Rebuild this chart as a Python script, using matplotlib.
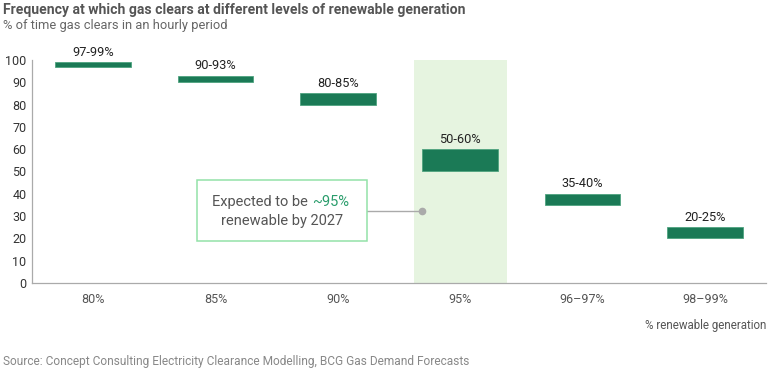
import matplotlib
matplotlib.use("Agg")
import matplotlib.pyplot as plt
from matplotlib.patches import Rectangle

plt.rcParams['font.family'] = ['Roboto', 'DejaVu Sans']

# data
categories = ['80%', '85%', '90%', '95%', '96–97%', '98–99%']
low = [97, 90, 80, 50, 35, 20]
high = [99, 93, 85, 60, 40, 25]
labels = ['97-99%', '90-93%', '80-85%', '50-60%', '35-40%', '20-25%']
highlight = 3
yticks = [0, 10, 20, 30, 40, 50, 60, 70, 80, 90, 100]

bar_green = '#1b7a56'
band_green = '#e6f4e0'
text_gray = '#333333'

fig = plt.figure(figsize=(7.8, 3.78), dpi=100)
ax = fig.add_axes([32 / 780, 95 / 378, 734 / 780, 223 / 378])

x = list(range(len(categories)))
heights = [h - l for l, h in zip(low, high)]

# highlighted 95% column
ax.bar(highlight, 100, width=0.76, color=band_green, zorder=0)

ax.bar(x, heights, bottom=low, width=0.62, color=bar_green,
       edgecolor='#4fa37f', linewidth=0.6, zorder=2)
for xi, h, lab in zip(x, high, labels):
    ax.text(xi, h + 1.5, lab, ha='center', va='bottom', fontsize=9.2,
            color='#222222', zorder=3)

ax.set_xlim(-0.5, len(categories) - 0.5)
ax.set_ylim(0, 100)
ax.set_yticks(yticks)
ax.set_xticks(x)
ax.set_xticklabels(categories)
ax.tick_params(axis='both', length=0, labelsize=9, colors=text_gray)
ax.tick_params(axis='x', pad=7, colors='#555555')
ax.tick_params(axis='y', pad=4)
for s in ['top', 'right']:
    ax.spines[s].set_visible(False)
for s in ['left', 'bottom']:
    ax.spines[s].set_color('#aaaaaa')
    ax.spines[s].set_linewidth(0.9)

# callout box
ax.add_patch(Rectangle((0.85, 18.8), 1.39, 27.4, facecolor='white',
                       edgecolor='#93e2a8', linewidth=1.1, zorder=4))
ax.plot([2.24, 2.69], [32.3, 32.3], color='#aaaaaa', linewidth=1, zorder=3)
ax.plot([2.69], [32.3], 'o', color='#aaaaaa', markersize=4.5, zorder=3)
t1 = ax.text(0.975, 36.2, 'Expected to be ', ha='left', va='center',
             fontsize=10.5, color='#555555', zorder=5)
ax.annotate('~95%', xy=(1, 0), xycoords=t1, ha='left', va='bottom',
            fontsize=10.5, color='#2a9d6c', zorder=5)
ax.text(1.545, 27.8, 'renewable by 2027', ha='center', va='center',
        fontsize=10.5, color='#555555', zorder=5)

fig.text(3 / 780, 1 - 10 / 378, 'Frequency at which gas clears at different levels of renewable generation',
         ha='left', va='center', fontsize=10.1, fontweight='bold', color='#555555')
fig.text(3 / 780, 1 - 25 / 378, '% of time gas clears in an hourly period',
         ha='left', va='center', fontsize=9.3, color='#666666')
fig.text(766 / 780, 1 - 325 / 378, '% renewable generation',
         ha='right', va='center', fontsize=8.3, color='#555555')
fig.text(3 / 780, 1 - 362 / 378,
         'Source: Concept Consulting Electricity Clearance Modelling, BCG Gas Demand Forecasts',
         ha='left', va='center', fontsize=8.6, color='#888888')

fig.savefig('out.png', dpi=100)
